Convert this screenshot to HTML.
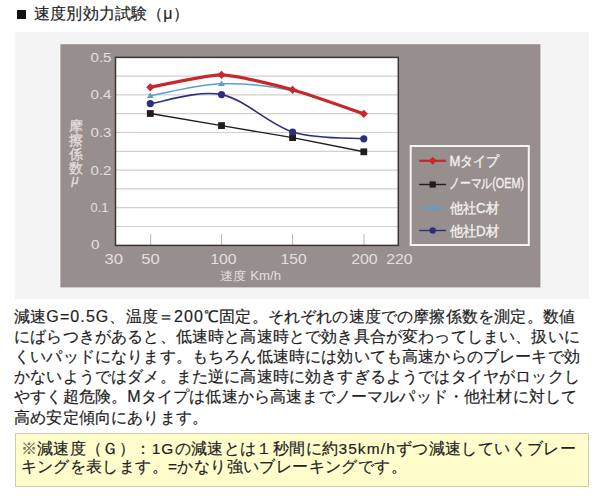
<!DOCTYPE html>
<html><head><meta charset="utf-8">
<style>
html,body{margin:0;padding:0;background:#fff;width:600px;height:496px;overflow:hidden;position:relative;font-family:"Liberation Sans",sans-serif;color:#222}
.abs{position:absolute;white-space:nowrap}
#sq{left:17px;top:10px;width:9px;height:9px;background:#111}
#title{left:34px;top:4px;font-size:16px;line-height:20px;color:#222;letter-spacing:0.17px;-webkit-text-stroke:0.18px #222}
#lg{left:14.5px;top:31.5px;width:574px;height:267px;background:#f4f4f4}
#chart{position:absolute;left:0;top:0}
#para{left:14px;top:306.5px;font-size:16px;line-height:20.2px;color:#222;letter-spacing:0.17px;-webkit-text-stroke:0.18px #222}
.l{letter-spacing:1.1px}
.l2{letter-spacing:1.1px}
#note{left:15px;top:433px;width:572px;height:52px;background:#fffdcc;border:1px solid #cfcbb4}
#notetxt{left:20.5px;top:440px;font-size:15.5px;line-height:18px;color:#222;letter-spacing:0.39px;-webkit-text-stroke:0.18px #222}
.kome{color:#7d8566}
</style></head><body>
<div class="abs" id="sq"></div>
<div class="abs" id="title">速度別効力試験（μ）</div>
<div class="abs" id="lg"></div>
<svg id="chart" width="600" height="496" viewBox="0 0 600 496">
  <rect x="60.4" y="44.2" width="480" height="243.2" fill="#978f8d"/>
  <rect x="115.5" y="57.4" width="282.8" height="188" fill="#fff"/>
  <g stroke="#d0d0d0" stroke-width="1.2"><line x1="116" y1="226.5" x2="398" y2="226.5"/><line x1="116" y1="207.7" x2="398" y2="207.7"/><line x1="116" y1="188.9" x2="398" y2="188.9"/><line x1="116" y1="170.1" x2="398" y2="170.1"/><line x1="116" y1="151.3" x2="398" y2="151.3"/><line x1="116" y1="132.5" x2="398" y2="132.5"/><line x1="116" y1="113.7" x2="398" y2="113.7"/><line x1="116" y1="94.9" x2="398" y2="94.9"/><line x1="116" y1="76.1" x2="398" y2="76.1"/></g>
  <g stroke="#b4b4b4" stroke-width="1">
    <line x1="150.7" y1="234" x2="150.7" y2="245"/>
    <line x1="221.6" y1="234" x2="221.6" y2="245"/>
    <line x1="292.6" y1="234" x2="292.6" y2="245"/>
    <line x1="364" y1="234" x2="364" y2="245"/>
  </g>
  <rect x="115.5" y="57.4" width="282.8" height="188" fill="none" stroke="#3a3433" stroke-width="1.5"/>
  <path d="M150.3,103.6 C162.2,102.1 197.8,89.9 221.5,94.6 C245.2,99.3 268.9,124.6 292.6,132 C316.3,139.4 351.9,137.7 363.8,138.8" fill="none" stroke="#2d2f7c" stroke-width="1.6"/>
  <path d="M150.3,113.5 L221.5,125.6 L292.6,137.6 L363.8,151.8" fill="none" stroke="#221c1b" stroke-width="1.4"/>
  <path d="M150.3,95.7 C162.2,93.7 197.8,84.6 221.5,83.8 C245.2,83.0 268.9,85.7 292.6,90.8 C316.3,95.9 351.9,110.6 363.8,114.6" fill="none" stroke="#5a9fcb" stroke-width="1.5"/>
  <path d="M150.3,87.3 C157.4,86.0 207.3,74.5 221.5,74.8 C235.7,75.0 278.4,85.9 292.6,89.8 C306.8,93.7 356.7,111.4 363.8,113.8" fill="none" stroke="#c8282a" stroke-width="3.2" stroke-linejoin="round"/>
  <g fill="#221c1b"><rect x="146.9" y="110.1" width="6.8" height="6.8"/><rect x="218.1" y="122.2" width="6.8" height="6.8"/><rect x="289.2" y="134.2" width="6.8" height="6.8"/><rect x="360.4" y="148.4" width="6.8" height="6.8"/></g>
  <g fill="#2d2f7c"><circle cx="150.3" cy="103.6" r="3.6"/><circle cx="221.5" cy="94.6" r="3.6"/><circle cx="292.6" cy="132" r="3.6"/><circle cx="363.8" cy="138.8" r="3.6"/></g>
  <g fill="#5a9fcb"><path d="M150.3,92.4 l3.4,5.6 h-6.8z"/><path d="M221.5,80.5 l3.4,5.6 h-6.8z"/></g>
  <g fill="#c8282a"><path d="M150.3,83.2 l4.1,4.1 l-4.1,4.1 l-4.1,-4.1z"/><path d="M221.5,70.7 l4.1,4.1 l-4.1,4.1 l-4.1,-4.1z"/><path d="M292.6,85.7 l4.1,4.1 l-4.1,4.1 l-4.1,-4.1z"/><path d="M363.8,109.7 l4.1,4.1 l-4.1,4.1 l-4.1,-4.1z"/></g>
  <g font-family="Liberation Sans, sans-serif" font-size="13" fill="#e4dfdd">
    <text x="90.5" y="62" textLength="21" lengthAdjust="spacingAndGlyphs">0.5</text>
    <text x="90.5" y="98.7" textLength="21" lengthAdjust="spacingAndGlyphs">0.4</text>
    <text x="90.5" y="137" textLength="21" lengthAdjust="spacingAndGlyphs">0.3</text>
    <text x="90.5" y="175" textLength="21" lengthAdjust="spacingAndGlyphs">0.2</text>
    <text x="90.5" y="212" textLength="18" lengthAdjust="spacingAndGlyphs">0.1</text>
    <text x="91" y="249.3" textLength="8.5" lengthAdjust="spacingAndGlyphs">0</text>
  </g>
  <g font-family="Liberation Sans, sans-serif" font-size="14" fill="#e4dfdd">
    <text x="104.5" y="263.8" textLength="18.5" lengthAdjust="spacingAndGlyphs">30</text>
    <text x="141.2" y="263.8" textLength="18.5" lengthAdjust="spacingAndGlyphs">50</text>
    <text x="210.2" y="263.8" textLength="26.5" lengthAdjust="spacingAndGlyphs">100</text>
    <text x="280.6" y="263.8" textLength="26" lengthAdjust="spacingAndGlyphs">150</text>
    <text x="351.2" y="263.8" textLength="26.5" lengthAdjust="spacingAndGlyphs">200</text>
    <text x="386.2" y="263.8" textLength="26.5" lengthAdjust="spacingAndGlyphs">220</text>
  </g>
  <text x="220" y="279.5" font-family="Liberation Sans, sans-serif" font-size="12" fill="#e4dfdd" textLength="61" lengthAdjust="spacingAndGlyphs">速度 Km/h</text>
  <g font-family="Liberation Sans, sans-serif" font-size="13.5" fill="#e4dfdd" stroke="#e4dfdd" stroke-width="0.3" text-anchor="middle">
    <text x="75.5" y="130.5">摩</text>
    <text x="75.5" y="144.5">擦</text>
    <text x="75.5" y="158.5">係</text>
    <text x="75.5" y="172.5">数</text>
    <text x="75" y="183.5" font-style="italic" font-size="13">μ</text>
  </g>
  <rect x="410.7" y="146" width="118.1" height="99" fill="none" stroke="#f6f4f2" stroke-width="2"/>
  <g font-family="Liberation Sans, sans-serif" font-size="14" fill="#f3f1f0" stroke="#f3f1f0" stroke-width="0.35">
    <text x="449.5" y="165.5" textLength="50" lengthAdjust="spacingAndGlyphs">Mタイプ</text>
    <text x="449" y="188" textLength="75" lengthAdjust="spacingAndGlyphs">ノーマル(OEM)</text>
    <text x="449.5" y="212.5" textLength="49.5" lengthAdjust="spacingAndGlyphs">他社C材</text>
    <text x="449.5" y="236" textLength="49.5" lengthAdjust="spacingAndGlyphs">他社D材</text>
  </g>
  <line x1="419.2" y1="160.8" x2="446" y2="160.8" stroke="#c8282a" stroke-width="2.2"/>
  <path d="M432.7,156.8 l4,4 l-4,4 l-4,-4z" fill="#c8282a"/>
  <line x1="419.2" y1="184.5" x2="446" y2="184.5" stroke="#221c1b" stroke-width="1.4"/>
  <rect x="429.6" y="181.4" width="6.2" height="6.2" fill="#221c1b"/>
  <line x1="419.2" y1="208" x2="446" y2="208" stroke="#5a9fcb" stroke-width="1.4"/>
  <path d="M432.7,204.6 l3.4,5.6 h-6.8z" fill="#5a9fcb"/>
  <line x1="419.2" y1="230.5" x2="446" y2="230.5" stroke="#2d2f7c" stroke-width="1.4"/>
  <circle cx="432.7" cy="230.5" r="3.2" fill="#2d2f7c"/>
</svg>
<div class="abs" id="para">減速<span class="l">G=0.5G</span>、温度＝<span class="l">200</span>℃固定。それぞれの速度での摩擦係数を測定。数値<br>にばらつきがあると、低速時と高速時とで効き具合が変わってしまい、扱いに<br>くいパッドになります。もちろん低速時には効いても高速からのブレーキで効<br>かないようではダメ。また逆に高速時に効きすぎるようではタイヤがロックし<br>やすく超危険。Mタイプは低速から高速までノーマルパッド・他社材に対して<br>高め安定傾向にあります。</div>
<div class="abs" id="note"></div>
<div class="abs" id="notetxt"><span class="kome">※</span>減速度（Ｇ）：<span class="l2">1G</span>の減速とは１秒間に約<span class="l2">35km/h</span>ずつ減速していくブレー<br>キングを表します。=かなり強いブレーキングです。</div>
</body></html>
